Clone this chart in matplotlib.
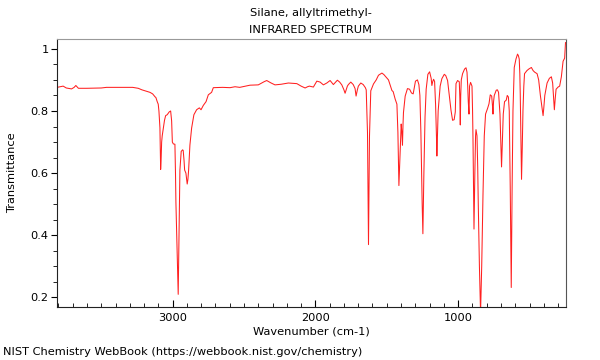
import numpy as np
import matplotlib
matplotlib.use('Agg')
import matplotlib.pyplot as plt
from matplotlib.ticker import MultipleLocator

# Spectrum (wavenumber in cm-1, transmittance).
wavenumber = [3809, 3767, 3745, 3708, 3690, 3678, 3660, 3600, 3500, 3463,
              3350, 3280, 3241, 3215, 3194, 3159, 3140, 3124, 3117, 3108,
              3101, 3096, 3089, 3086, 3084, 3081, 3077, 3073, 3066, 3057,
              3049, 3038, 3024, 3014, 3007, 3002, 2995, 2984, 2980, 2977,
              2970, 2961, 2955, 2949, 2940, 2930, 2926, 2920, 2916, 2907,
              2898, 2893, 2888, 2879, 2867, 2851, 2832, 2813, 2801, 2785,
              2766, 2750, 2727, 2715, 2650, 2598, 2563, 2530, 2458, 2400,
              2360, 2341, 2310, 2283, 2240, 2189, 2160, 2130, 2100, 2072,
              2055, 2042, 2014, 1990, 1967, 1944, 1920, 1902, 1897, 1874,
              1846, 1830, 1815, 1800, 1792, 1776, 1769, 1752, 1735, 1722,
              1715, 1706, 1699, 1682, 1665, 1650, 1644, 1635, 1628, 1621,
              1612, 1593, 1574, 1558, 1540, 1534, 1520, 1488, 1470, 1464,
              1455, 1441, 1429, 1422, 1415, 1410, 1406, 1399, 1394, 1390,
              1386, 1383, 1371, 1355, 1340, 1327, 1315, 1299, 1285, 1275,
              1268, 1261, 1252, 1247, 1240, 1232, 1224, 1212, 1200, 1189,
              1184, 1178, 1172, 1165, 1158, 1152, 1149, 1145, 1140, 1126,
              1114, 1097, 1087, 1074, 1062, 1050, 1039, 1028, 1020, 1015,
              1004, 992, 988, 985, 982, 978, 969, 955, 945, 938,
              933, 929, 924, 920, 913, 903, 899, 896, 889, 883,
              878, 875, 868, 863, 859, 851, 843, 835, 826, 817,
              808, 794, 784, 775, 765, 760, 756, 752, 747, 733,
              725, 717, 707, 696, 690, 684, 675, 663, 656, 648,
              642, 635, 628, 622, 616, 607, 595, 584, 578, 572,
              568, 565, 556, 551, 546, 540, 535, 518, 505, 487,
              475, 464, 447, 436, 424, 405, 400, 393, 377, 361,
              347, 338, 326, 320, 314, 300, 289, 277, 265, 254,
              248]
transmittance = [0.876, 0.880, 0.874, 0.871, 0.876, 0.882, 0.873, 0.873, 0.874, 0.876,
                 0.876, 0.876, 0.873, 0.868, 0.865, 0.860, 0.855, 0.846, 0.843, 0.830,
                 0.822, 0.800, 0.746, 0.660, 0.612, 0.640, 0.700, 0.720, 0.742, 0.770,
                 0.785, 0.788, 0.797, 0.800, 0.768, 0.700, 0.694, 0.693, 0.600, 0.505,
                 0.380, 0.210, 0.400, 0.610, 0.670, 0.675, 0.673, 0.640, 0.610, 0.600,
                 0.565, 0.580, 0.610, 0.690, 0.745, 0.788, 0.804, 0.810, 0.804, 0.818,
                 0.830, 0.852, 0.860, 0.875, 0.876, 0.875, 0.878, 0.876, 0.883, 0.884,
                 0.894, 0.898, 0.890, 0.884, 0.886, 0.890, 0.889, 0.888, 0.880, 0.874,
                 0.878, 0.880, 0.877, 0.896, 0.893, 0.884, 0.890, 0.896, 0.898, 0.885,
                 0.899, 0.893, 0.884, 0.868, 0.857, 0.880, 0.885, 0.893, 0.885, 0.872,
                 0.848, 0.868, 0.880, 0.890, 0.885, 0.875, 0.868, 0.730, 0.370, 0.720,
                 0.865, 0.887, 0.900, 0.915, 0.920, 0.922, 0.917, 0.900, 0.875, 0.866,
                 0.862, 0.838, 0.822, 0.731, 0.560, 0.620, 0.677, 0.758, 0.730, 0.690,
                 0.760, 0.795, 0.848, 0.872, 0.870, 0.858, 0.855, 0.896, 0.900, 0.885,
                 0.850, 0.731, 0.500, 0.405, 0.600, 0.780, 0.870, 0.918, 0.926, 0.905,
                 0.882, 0.895, 0.902, 0.895, 0.820, 0.720, 0.655, 0.720, 0.800, 0.880,
                 0.904, 0.918, 0.914, 0.898, 0.850, 0.802, 0.770, 0.772, 0.797, 0.888,
                 0.898, 0.894, 0.840, 0.755, 0.850, 0.900, 0.920, 0.935, 0.939, 0.925,
                 0.880, 0.830, 0.790, 0.880, 0.892, 0.880, 0.800, 0.710, 0.420, 0.600,
                 0.720, 0.740, 0.720, 0.620, 0.500, 0.300, 0.150, 0.300, 0.530, 0.720,
                 0.790, 0.808, 0.823, 0.852, 0.848, 0.820, 0.790, 0.830, 0.850, 0.867,
                 0.868, 0.860, 0.790, 0.620, 0.700, 0.790, 0.830, 0.835, 0.850, 0.845,
                 0.800, 0.550, 0.232, 0.550, 0.800, 0.940, 0.967, 0.983, 0.978, 0.967,
                 0.920, 0.855, 0.580, 0.680, 0.800, 0.880, 0.920, 0.930, 0.935, 0.940,
                 0.930, 0.925, 0.920, 0.900, 0.850, 0.785, 0.810, 0.850, 0.890, 0.905,
                 0.910, 0.890, 0.804, 0.840, 0.870, 0.877, 0.880, 0.910, 0.960, 0.970,
                 1.020]

title_lines = ['Silane, allyltrimethyl-', 'INFRARED SPECTRUM']
footer = 'NIST Chemistry WebBook (https://webbook.nist.gov/chemistry)'

plt.rcParams['font.family'] = 'DejaVu Sans'
fs = 8.2

fig = plt.figure(figsize=(6, 3.6), dpi=100)
ax = fig.add_axes([0.095, 0.147, 0.8475, 0.745])

ax.plot(wavenumber, transmittance, color='#ff2020', lw=0.75)

ax.set_xlim(3810, 248)
ax.set_ylim(0.169, 1.032)

ax.xaxis.set_major_locator(MultipleLocator(1000))
ax.xaxis.set_minor_locator(MultipleLocator(100))
ax.yaxis.set_major_locator(MultipleLocator(0.2))
ax.yaxis.set_minor_locator(MultipleLocator(0.05))
ax.yaxis.set_major_formatter(lambda v, pos: '1' if abs(v - 1) < 1e-6 else '%.1f' % v)

ax.tick_params(axis='x', which='major', direction='in', length=5, width=0.8, pad=4)
ax.tick_params(axis='x', which='minor', direction='in', length=3, width=0.6)
ax.tick_params(axis='y', which='major', direction='out', length=4, width=0.8, pad=2)
ax.tick_params(axis='y', which='minor', direction='out', length=3, width=0.6)
ax.tick_params(labelsize=fs)

for side in ['left', 'bottom']:
    ax.spines[side].set_color('#222222')
ax.spines['right'].set_color('#555555')
ax.spines['top'].set_color('#999999')

ax.set_xlabel('Wavenumber (cm-1)', fontsize=fs, labelpad=2.5)
ax.set_ylabel('Transmittance', fontsize=fs, labelpad=9.5)

fig.text(0.518, 0.963, title_lines[0], ha='center', va='center', fontsize=fs)
fig.text(0.518, 0.916, title_lines[1], ha='center', va='center', fontsize=fs)
fig.text(0.005, 0.022, footer, ha='left', va='center', fontsize=fs)

fig.savefig('out.png', dpi=100)
